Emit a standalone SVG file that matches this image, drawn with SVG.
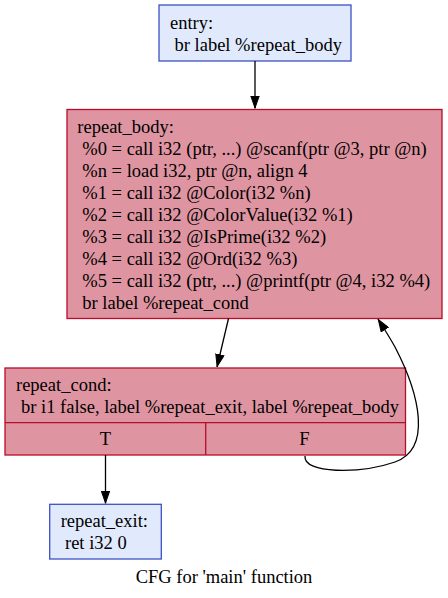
<svg xmlns="http://www.w3.org/2000/svg" width="448" height="598" viewBox="0 0 448 598">
<style>
text{font-family:"Liberation Serif","Times New Roman",serif;font-size:18.5px;fill:#000}
.blue{fill:#b9d0f9;fill-opacity:0.44;stroke:#3d50c3;stroke-width:1.3}
.red{fill:#b70d28;fill-opacity:0.44;stroke:#b70d28;stroke-width:1.3}
.ln{fill:none;stroke:#b70d28;stroke-width:1.3}
.edge{fill:none;stroke:#000;stroke-width:1.3}
.mid{text-anchor:middle}
</style>
<defs>
<marker id="ah" viewBox="0 0 13 9.4" refX="13" refY="4.7" markerWidth="13" markerHeight="9.4" markerUnits="userSpaceOnUse" orient="auto">
<path d="M0.5,0.5 L12.5,4.7 L0.5,8.9 Z" fill="#000" stroke="#000" stroke-width="1"/>
</marker>
</defs>
<rect width="448" height="598" fill="#fff"/>
<g id="entry">
<rect class="blue" x="159" y="5" width="192" height="56"/>
<text x="170" y="28.5">entry:</text>
<text x="174.5" y="50.5">br label %repeat_body</text>
</g>
<g id="repeat_body">
<rect class="red" x="67" y="109.5" width="375" height="209"/>
<text x="77.3" y="133">repeat_body:</text>
<text x="82.3" y="155">%0 = call i32 (ptr, ...) @scanf(ptr @3, ptr @n)</text>
<text x="82.3" y="177">%n = load i32, ptr @n, align 4</text>
<text x="82.3" y="199">%1 = call i32 @Color(i32 %n)</text>
<text x="82.3" y="221">%2 = call i32 @ColorValue(i32 %1)</text>
<text x="82.3" y="243">%3 = call i32 @IsPrime(i32 %2)</text>
<text x="82.3" y="265">%4 = call i32 @Ord(i32 %3)</text>
<text x="82.3" y="287">%5 = call i32 (ptr, ...) @printf(ptr @4, i32 %4)</text>
<text x="82.3" y="309">br label %repeat_cond</text>
</g>
<g id="repeat_cond">
<rect class="red" x="5" y="368" width="400.5" height="87"/>
<path class="ln" d="M5,422.7 H405.5 M205.7,422.7 V455"/>
<text x="16" y="391">repeat_cond:</text>
<text x="21" y="413">br i1 false, label %repeat_exit, label %repeat_body</text>
<text class="mid" x="105.5" y="445">T</text>
<text class="mid" x="304.5" y="445">F</text>
</g>
<g id="repeat_exit">
<rect class="blue" x="49.7" y="504.3" width="111.6" height="54.7"/>
<text x="60.7" y="527">repeat_exit:</text>
<text x="65" y="549">ret i32 0</text>
</g>
<g id="connectors">
<path class="edge" d="M255,61 V108.5" marker-end="url(#ah)"/>
<path class="edge" d="M228.5,318.5 L217,367" marker-end="url(#ah)"/>
<path class="edge" d="M105.5,455 V503.5" marker-end="url(#ah)"/>
<path class="edge" d="M305,456 C303,474 360,474 395,462 C432,449 420,395 395,347 C390,338 385,330 378,319" marker-end="url(#ah)"/>
</g>
<text class="mid" x="224" y="583">CFG for 'main' function</text>
</svg>
